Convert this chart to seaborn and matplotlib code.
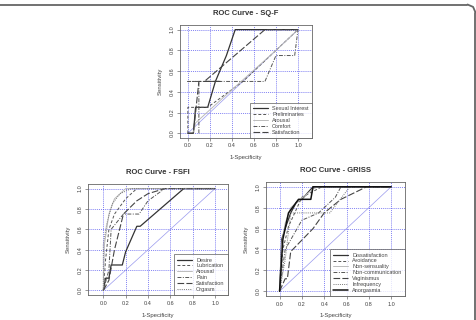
import matplotlib
matplotlib.use("Agg")
import matplotlib.pyplot as plt
import seaborn as sns
from matplotlib.lines import Line2D

# ROC curves (x = 1-specificity, y = sensitivity)
sqf_names = ["Sexual Interest", "Preliminaries", "Arousal", "Comfort", "Satisfaction"]
sqf_x = [
    [0.0, 0.05, 0.07, 0.18, 0.25, 0.35, 0.43, 1.0],
    [0.0, 0.0, 0.05, 0.18, 0.5, 0.8, 1.0],
    [0.05, 0.07, 0.4, 0.8, 1.0],
    [0.1, 0.1, 0.0, 0.7, 0.8, 0.95, 0.97, 1.0],
    [0.0, 0.05, 0.1, 0.3, 0.15, 0.7, 1.0],
]
sqf_y = [
    [0.0, 0.0, 0.25, 0.25, 0.5, 0.75, 1.0, 1.0],
    [0.0, 0.25, 0.25, 0.25, 0.5, 0.8, 1.0],
    [0.0, 0.1, 0.42, 0.8, 1.0],
    [0.0, 0.5, 0.5, 0.5, 0.75, 0.75, 0.75, 1.0],
    [0.0, 0.0, 0.5, 0.5, 0.5, 1.0, 1.0],
]

fsfi_names = ["Desire", "Lubrication", "Arousal", "Pain", "Satisfaction", "Orgasm"]
fsfi_x = [
    [0.0, 0.02, 0.05, 0.07, 0.17, 0.2, 0.3, 0.33, 0.72, 1.0],
    [0.0, 0.02, 0.05, 0.1, 0.2, 0.3, 1.0],
    [0.0, 0.01, 0.05, 0.1, 0.2, 1.0],
    [0.0, 0.05, 0.07, 0.18, 0.32, 0.4, 0.55, 1.0],
    [0.0, 0.05, 0.1, 0.18, 0.3, 0.4, 0.55, 1.0],
    [0.0, 0.0, 0.03, 0.08, 0.15, 0.25, 1.0],
]
fsfi_y = [
    [0.0, 0.12, 0.12, 0.25, 0.25, 0.38, 0.63, 0.63, 1.0, 1.0],
    [0.0, 0.3, 0.6, 0.75, 0.9, 1.0, 1.0],
    [0.0, 0.45, 0.75, 0.9, 1.0, 1.0],
    [0.0, 0.2, 0.6, 0.75, 0.75, 0.88, 1.0, 1.0],
    [0.0, 0.1, 0.4, 0.75, 0.88, 0.95, 1.0, 1.0],
    [0.0, 0.45, 0.65, 0.85, 0.95, 1.0, 1.0],
]

griss_names = ["Dissatisfaction", "Avoidance", "Non-sensuality", "Non-communication",
               "Vaginismus", "Infrequency", "Anorgasmia"]
griss_x = [
    [0.0, 0.02, 0.05, 0.1, 0.15, 0.2, 0.3, 1.0],
    [0.0, 0.03, 0.08, 0.2, 0.38, 1.0],
    [0.0, 0.02, 0.05, 0.1, 0.3, 0.35, 1.0],
    [0.0, 0.05, 0.2, 0.35, 0.5, 0.55, 1.0],
    [0.0, 0.05, 0.07, 0.1, 0.3, 0.4, 0.55, 0.78, 1.0],
    [0.0, 0.05, 0.1, 0.45, 0.63, 1.0],
    [0.0, 0.03, 0.08, 0.17, 0.28, 0.3, 1.0],
]
griss_y = [
    [0.0, 0.5, 0.6, 0.75, 0.85, 0.88, 1.0, 1.0],
    [0.0, 0.4, 0.62, 0.9, 1.0, 1.0],
    [0.0, 0.45, 0.65, 0.8, 0.98, 1.0, 1.0],
    [0.0, 0.4, 0.68, 0.75, 0.9, 1.0, 1.0],
    [0.0, 0.12, 0.12, 0.38, 0.6, 0.75, 0.88, 1.0, 1.0],
    [0.0, 0.3, 0.75, 0.75, 1.0, 1.0],
    [0.0, 0.5, 0.75, 0.88, 0.88, 1.0, 1.0],
]

ticks = [0.0, 0.2, 0.4, 0.6, 0.8, 1.0]
tick_labels = ["0.0", "0.2", "0.4", "0.6", "0.8", "1.0"]

styles = [
    ("#333333", "-", 0.9),
    ("#555555", (0, (3, 2)), 0.7),
    ("#bbbbbb", "-", 0.7),
    ("#555555", (0, (4, 1.5, 1, 1.5)), 0.7),
    ("#444444", (0, (6, 2)), 0.8),
    ("#777777", (0, (1, 1.2)), 0.7),
    ("#111111", "-", 1.1),
]

sns.set_style("white")
plt.rcParams["font.family"] = ["Liberation Sans", "DejaVu Sans"]

fig = plt.figure(figsize=(4.77, 3.2), dpi=100)

# frame: top edge and right edge with a rounded corner
W, H = 477.0, 320.0
top_y = 1 - 4.5 / H
right_x = 1 - 1.5 / W
r = 8.0
fig.add_artist(Line2D([0, right_x - r / W], [top_y, top_y],
                      transform=fig.transFigure, color="#666666", lw=1.3))
fig.add_artist(Line2D([right_x - r / W, right_x - 0.3 * r / W, right_x],
                      [top_y, top_y - 0.3 * r / H, top_y - r / H],
                      transform=fig.transFigure, color="#666666", lw=1.3))
fig.add_artist(Line2D([right_x, right_x], [top_y - r / H, 0],
                      transform=fig.transFigure, color="#666666", lw=1.3))


def roc_panel(rect, title, names, xs, ys, xlim):
    ax = fig.add_axes(rect)
    ax.plot([0, 1], [0, 1], color="#9999ee", lw=0.5, zorder=1)
    for v in ticks:
        ax.axhline(v, color="#5555ee", lw=0.5, ls=(0, (1.5, 1.5)), zorder=0)
        ax.axvline(v, color="#5555ee", lw=0.5, ls=(0, (1.5, 1.5)), zorder=0)
    for i, name in enumerate(names):
        c, ls, lw = styles[i]
        sns.lineplot(x=xs[i], y=ys[i], ax=ax, sort=False, estimator=None,
                     color=c, linestyle=ls, linewidth=lw, label=name, zorder=3)
    ax.set_xlim(*xlim)
    ax.set_ylim(-0.045, 1.045)
    ax.set_xticks(ticks)
    ax.set_xticklabels(tick_labels)
    ax.set_yticks(ticks)
    ax.set_yticklabels(tick_labels, rotation=90, va="center")
    ax.tick_params(labelsize=4, colors="#444444", length=2, width=0.4,
                   direction="out", pad=2, bottom=True, left=True)
    for s in ax.spines.values():
        s.set_color("#666666")
        s.set_linewidth(0.6)
    ax.set_title(title, fontsize=5.5, fontweight="bold", color="#333333", pad=7)
    ax.set_xlabel("1-Specificity", fontsize=4.3, color="#444444", labelpad=5)
    ax.set_ylabel("Sensitivity", fontsize=4.3, color="#444444", labelpad=5)
    leg = ax.legend(loc="lower right", fontsize=4, frameon=True, fancybox=False,
                    borderaxespad=0, handlelength=2.6, labelspacing=0.15,
                    borderpad=0.6, handletextpad=0.8, labelcolor="#444444")
    leg.get_frame().set_edgecolor("#555555")
    leg.get_frame().set_linewidth(0.6)
    return ax


roc_panel([0.377, 0.569, 0.277, 0.353], "ROC Curve - SQ-F",
          sqf_names, sqf_x, sqf_y, (-0.073, 1.127))
roc_panel([0.1845, 0.078, 0.2935, 0.347], "ROC Curve - FSFI",
          fsfi_names, fsfi_x, fsfi_y, (-0.137, 1.116))
roc_panel([0.558, 0.075, 0.291, 0.356], "ROC Curve - GRISS",
          griss_names, griss_x, griss_y, (-0.12, 1.124))

fig.savefig("out.png", dpi=100)
